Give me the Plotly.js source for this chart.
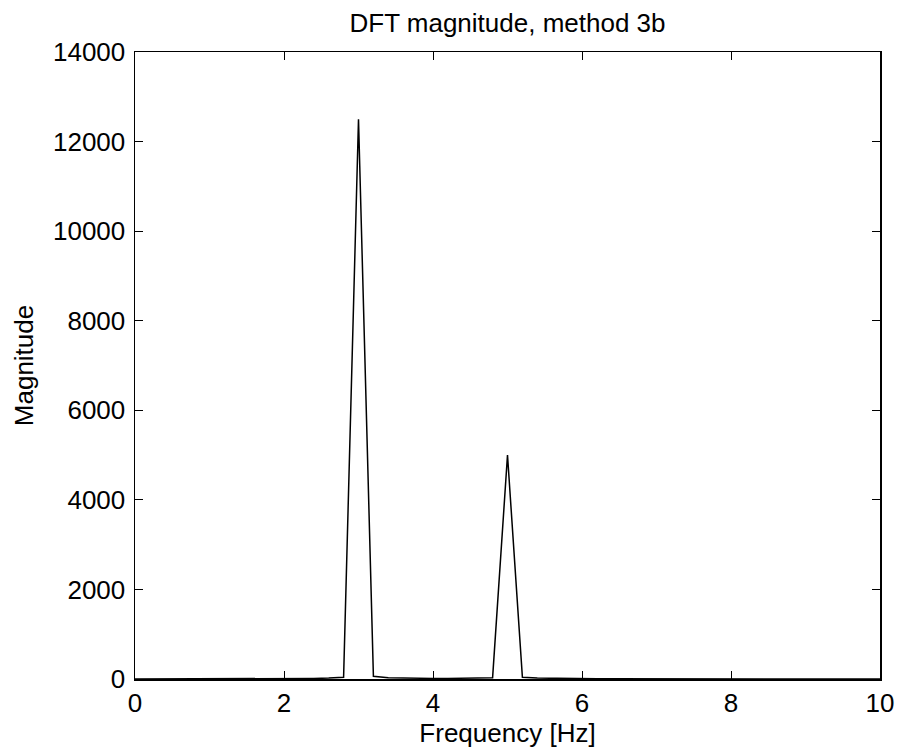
<!DOCTYPE html>
<html>
<head>
<meta charset="utf-8">
<script src="https://cdn.plot.ly/plotly-3.0.1.min.js"></script>
<style>html,body{margin:0;padding:0;background:#fff;}#chart{width:899px;height:754px;}</style>
</head>
<body>
<div id="chart"></div>
<script>
const freqHz = [0,0.2,0.4,0.6,0.8,1.0,1.2,1.4,1.6,1.8,2.0,2.2,2.4,2.6,2.8,3.0,3.2,3.4,3.6,3.8,4.0,4.2,4.4,4.6,4.8,5.0,5.2,5.4,5.6,5.8,6.0,6.2,6.4,6.6,6.8,7.0,7.2,7.4,7.6,7.8,8.0,8.2,8.4,8.6,8.8,9.0,9.2,9.4,9.6,9.8,10.0];
const magnitude = [1,1,1,1,2,2,2,3,3,4,5,8,12,20,40,12500,60,30,20,15,12,12,15,20,30,5000,40,20,12,8,5,4,3,3,2,2,2,1,1,1,1,1,1,1,1,1,1,1,1,1,1];
const xTicks = [0,2,4,6,8,10];
const yTicks = [0,2000,4000,6000,8000,10000,12000,14000];

const fontFam = 'Liberation Sans, Arial, Helvetica, sans-serif';
Plotly.newPlot('chart', [{
  x: freqHz, y: magnitude, type: 'scatter', mode: 'lines',
  line: {color: '#000', width: 1.5}, hoverinfo: 'skip'
}], {
  width: 899, height: 754,
  margin: {l: 135, r: 19, t: 52, b: 75},
  paper_bgcolor: '#fff', plot_bgcolor: '#fff',
  showlegend: false,
  font: {family: fontFam, color: '#000'},
  title: {text: 'DFT magnitude, method 3b', font: {size: 26, family: fontFam, color: '#000'}, x: 0.5645, xanchor: 'center', y: 0.969, yanchor: 'middle'},
  xaxis: {
    range: [0, 10], tickvals: xTicks, ticktext: xTicks.map(String),
    ticks: 'inside', ticklen: 8, tickwidth: 1, tickcolor: '#000',
    showline: true, linecolor: '#000', linewidth: 1.5, mirror: 'ticks',
    showgrid: false, zeroline: false,
    tickfont: {size: 26, family: fontFam, color: '#000'},
    title: {text: 'Frequency [Hz]', font: {size: 26, family: fontFam, color: '#000'}, standoff: 2}
  },
  yaxis: {
    range: [0, 14000], tickvals: yTicks, ticktext: yTicks.map(String),
    ticks: 'inside', ticklen: 8, tickwidth: 1, tickcolor: '#000',
    showline: true, linecolor: '#000', linewidth: 1.5, mirror: 'ticks',
    showgrid: false, zeroline: false, ticklabelstandoff: 3,
    tickfont: {size: 26, family: fontFam, color: '#000'},
    title: {text: 'Magnitude', font: {size: 26, family: fontFam, color: '#000'}, standoff: 12}
  }
}, {staticPlot: true});
</script>
</body>
</html>
